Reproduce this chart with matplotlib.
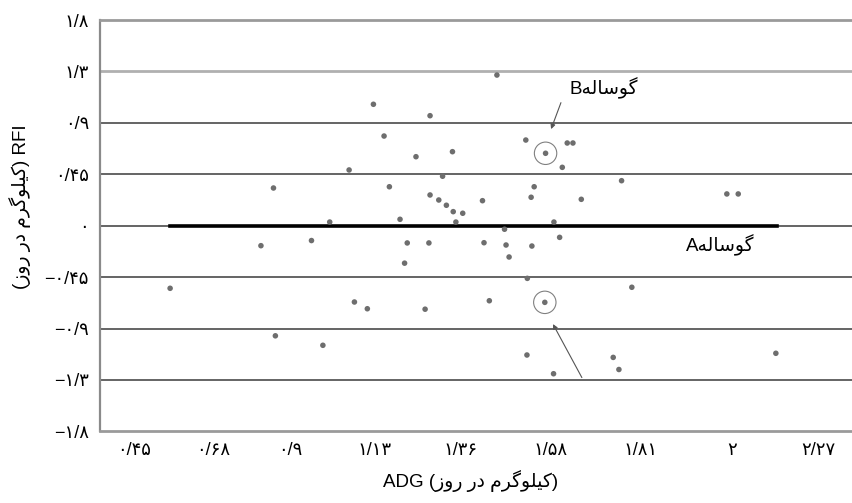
import matplotlib
matplotlib.use("Agg")
import matplotlib.pyplot as plt

plt.rcParams['font.family'] = ['Liberation Sans', 'DejaVu Sans']

# Persian words in presentation forms, visual (left-to-right) order
CALF = "\uFEEA\uFEDF\uFE8E\uFEB3\uFEEE\uFB94"            # گوساله
UNIT = "\uFEAF\uFEED\uFEAD \uFEAD\uFEA9 \uFEE1\uFEAE\uFB94\uFEEE\uFEE0\uFBFF\uFB90"  # کیلوگرم در روز

# data (ADG kg/day, RFI kg/day)
adg = [0.545, 0.784, 0.817, 0.822, 0.917, 0.947, 0.965, 1.016, 1.030, 1.064,
       1.080, 1.108, 1.122, 1.150, 1.162, 1.169, 1.192, 1.216, 1.226, 1.229,
       1.229, 1.252, 1.262, 1.272, 1.288, 1.290, 1.297, 1.315, 1.367, 1.371,
       1.385, 1.405, 1.425, 1.429, 1.437, 1.481, 1.485, 1.484, 1.495, 1.497,
       1.503, 1.533, 1.531, 1.554, 1.555, 1.570, 1.577, 1.590, 1.605, 1.627,
       1.711, 1.726, 1.733, 1.760, 2.010, 2.040, 2.139]
rfi = [-0.548, -0.175, 0.330, -0.964, -0.130, -1.047, 0.032, 0.488, -0.668, -0.727,
       1.063, 0.785, 0.341, 0.056, -0.328, -0.151, 0.604, -0.731, -0.151, 0.963,
       0.269, 0.225, 0.433, 0.179, 0.648, 0.123, 0.032, 0.109, 0.219, -0.149,
       -0.657, 1.319, -0.031, -0.169, -0.274, 0.750, -0.461, -1.132, 0.249, -0.178,
       0.341, 0.634, -0.671, -1.296, 0.032, -0.102, 0.511, 0.724, 0.724, 0.231,
       -1.153, -1.259, 0.394, -0.539, 0.278, 0.278, -1.117]

calf_b = (1.533, 0.634)
calf_a = (1.531, -0.671)
zero_line = (0.545, 2.142)

xticks = [0.45, 0.658, 0.861, 1.084, 1.308, 1.547, 1.784, 2.024, 2.25]
xlabels = ["۰/۴۵", "۰/۶۸", "۰/۹", "۱/۱۳", "۱/۳۶", "۱/۵۸", "۱/۸۱", "۲", "۲/۲۷"]
yticks = [1.8, 1.35, 0.9, 0.45, 0, -0.45, -0.9, -1.35, -1.8]
ylabels = ["۱/۸", "۱/۳", "۰/۹", "۰/۴۵", "۰", "−۰/۴۵", "−۰/۹", "−۱/۳", "−۱/۸"]

fig = plt.figure(figsize=(8.53, 5.03), dpi=100)
ax = fig.add_axes([100/853, 71.7/503, 753/853, 411.2/503])
ax.set_xlim(0.3605, 2.342)
ax.set_ylim(-1.8, 1.8)

for v in yticks[1:-1]:
    if v == 1.35:
        ax.axhline(v, color='#b0b0b0', lw=2.0, zorder=1)
    else:
        ax.axhline(v, color='#4a4a4a', lw=1.2, zorder=1)
ax.plot(zero_line, [0, 0], color='black', lw=2.6, zorder=2)

ax.scatter(adg, rfi, s=16, color='#6e6e6e', edgecolors='none', zorder=3)
ax.scatter([calf_b[0], calf_a[0]], [calf_b[1], calf_a[1]], s=260,
           facecolors='none', edgecolors='#808080', linewidths=0.8, zorder=3)

ax.annotate("", xy=(1.545, 0.823), xytext=(1.576, 1.100),
            arrowprops=dict(arrowstyle='-|>', color='#555555', lw=0.8,
                            mutation_scale=7))
ax.annotate("", xy=(1.549, -0.840), xytext=(1.632, -1.351),
            arrowprops=dict(arrowstyle='-|>', color='#555555', lw=0.8,
                            mutation_scale=7))
ax.text(1.595, 1.201, "B" + CALF, fontsize=13.5, ha='left', va='center')
ax.text(1.992, -0.169, "A" + CALF, fontsize=13.5, ha='center', va='center')

ax.set_xticks(xticks)
ax.set_xticklabels(xlabels, fontsize=13)
ax.set_yticks(yticks)
ax.set_yticklabels(ylabels, fontsize=13)
ax.tick_params(axis='both', length=0)
ax.tick_params(axis='y', pad=8)
ax.tick_params(axis='x', pad=8)

ax.spines['right'].set_visible(False)
ax.spines['left'].set_color('#8a8a8a')
ax.spines['left'].set_linewidth(1.6)
ax.spines['top'].set_color('#9a9a9a')
ax.spines['top'].set_linewidth(2.0)
ax.spines['bottom'].set_color('#9a9a9a')
ax.spines['bottom'].set_linewidth(2.0)

fig.text(20/853, 1 - 207/503, "(" + UNIT + ") RFI", rotation=90,
         fontsize=13.5, ha='center', va='center')
fig.text(471/853, 1 - 481/503, "ADG (" + UNIT + ")", fontsize=13.5,
         ha='center', va='center')

fig.savefig("out.png", dpi=100)
